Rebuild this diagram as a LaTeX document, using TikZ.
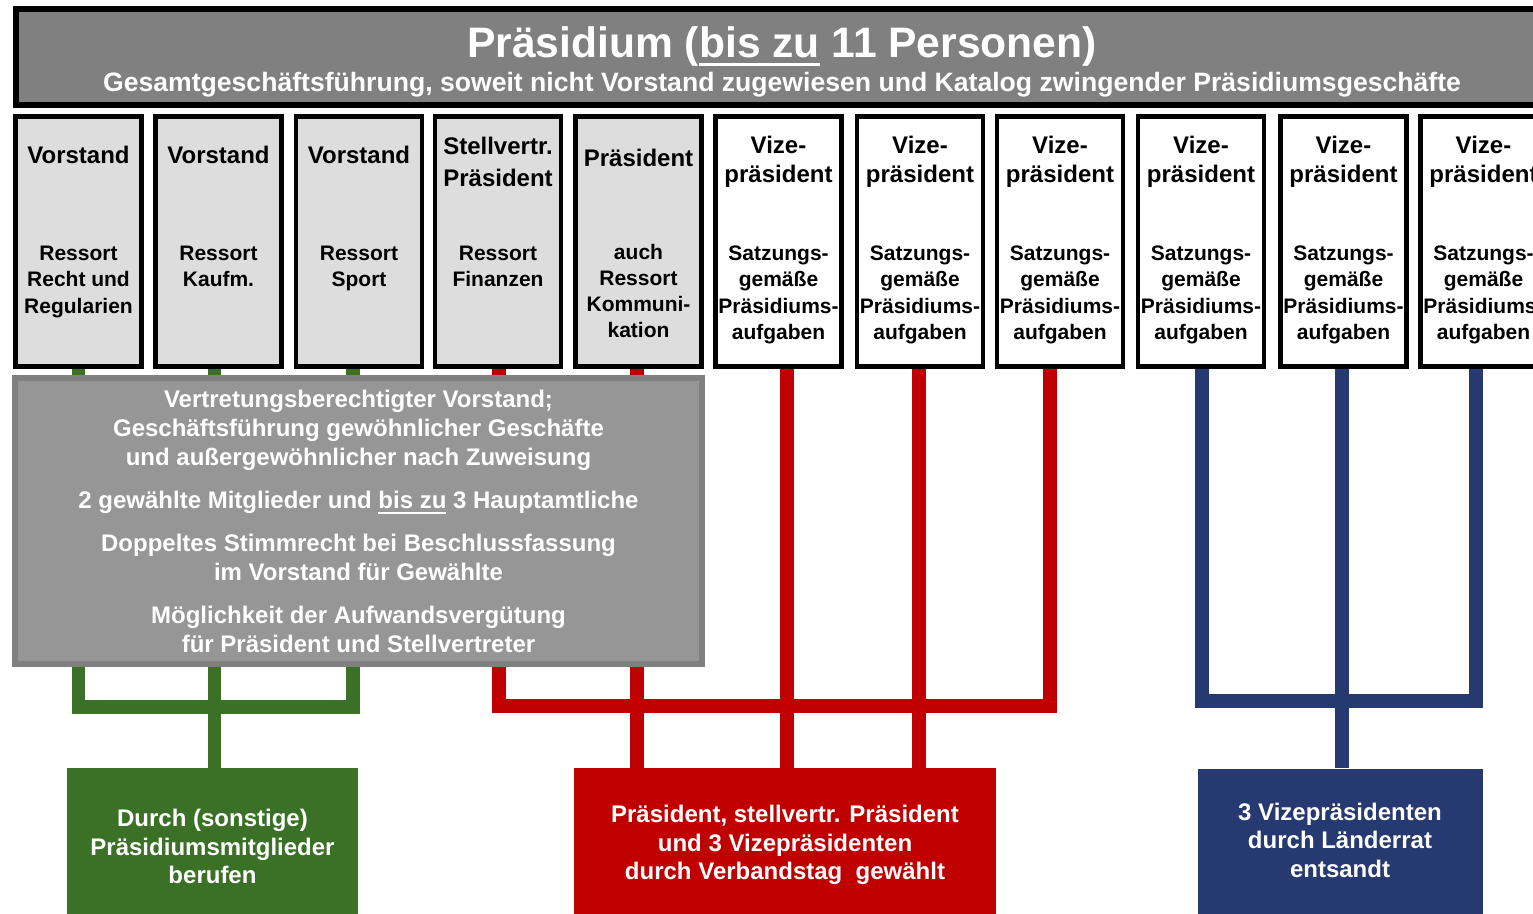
\documentclass[tikz,border=0pt]{standalone}
\usepackage{fontspec}
\setmainfont{Liberation Sans}
\usetikzlibrary{backgrounds}
\definecolor{bannergray}{HTML}{808080}
\definecolor{lightbox}{HTML}{DDDDDD}
\definecolor{midgray}{HTML}{969696}
\definecolor{midborder}{HTML}{808080}
\definecolor{grn}{RGB}{59,112,39}
\definecolor{rd}{HTML}{C00000}
\definecolor{blu}{RGB}{38,57,112}
\newcommand{\myunderline}[3]{\leavevmode\setbox0\hbox{#1}\rlap{\rule[-#2]{\wd0}{#3}}\box0\relax}
\begin{document}
\begin{tikzpicture}[x=0.5pt,y=-0.5pt,
  fbox/.style={draw=black,line width=2.25pt,minimum width=63pt,minimum height=125pt,inner sep=0pt},
  greyfbox/.style={fbox,fill=lightbox},
  whitefbox/.style={fbox,fill=white},
  headtxt/.style={font=\bfseries\fontsize{12}{16}\selectfont,align=center,inner sep=0pt},
  vizehead/.style={headtxt,font=\bfseries\fontsize{12}{14.5}\selectfont},
  dettxt/.style={font=\bfseries\fontsize{10.5}{13.15}\selectfont,align=center,inner sep=0pt},
  banner/.style={draw=black,line width=3pt,fill=bannergray,minimum width=764.5pt,minimum height=48pt,inner sep=0pt},
  midbox/.style={draw=midborder,fill=midgray,line width=3pt,minimum width=343.5pt,minimum height=143pt,inner sep=0pt,
    text=white,align=center,font=\bfseries\fontsize{12}{14.5}\selectfont},
  footbox/.style={minimum height=78.5pt,inner sep=0pt,draw=none},
  foottxt/.style={text=white,align=center,inner sep=0pt,font=\bfseries\fontsize{12}{14.25}\selectfont},
  gline/.style={draw=grn,line width=6.75pt},
  rline/.style={draw=rd,line width=7pt},
  bline/.style={draw=blu,line width=7pt}
]
\useasboundingbox (0,0) rectangle (1533,914);
\clip (0,0) rectangle (1533,914);

% banner
\node[banner] (top) at (780.5,57) {};
\node[anchor=base,text=white,inner sep=0pt,font=\bfseries\fontsize{21.3}{24}\selectfont] (ttl) at (782,58)
  {Präsidium (\myunderline{bis zu}{4pt}{1.6pt} 11 Personen)};
\node[anchor=base,text=white,inner sep=0pt,font=\bfseries\fontsize{13.3}{15}\selectfont] (sub) at (782,92)
  {Gesamtgeschäftsführung, soweit nicht Vorstand zugewiesen und Katalog zwingender Präsidiumsgeschäfte};

% top row boxes
\node[greyfbox] (b1) at (78.5,241.5) {};
\node[greyfbox] (b2) at (218.5,241.5) {};
\node[greyfbox] (b3) at (359,241.5) {};
\node[greyfbox] (b4) at (498,241.5) {};
\node[greyfbox] (b5) at (638.5,241.5) {};
\node[whitefbox] (b6) at (778.5,241.5) {};
\node[whitefbox] (b7) at (920,241.5) {};
\node[whitefbox] (b8) at (1060,241.5) {};
\node[whitefbox] (b9) at (1201,241.5) {};
\node[whitefbox] (b10) at (1343.5,241.5) {};
\node[whitefbox] (b11) at (1483.5,241.5) {};

\node[headtxt] (h1) at (78.5,155) {Vorstand};
\node[headtxt] (h2) at (218.5,155) {Vorstand};
\node[headtxt] (h3) at (359,155) {Vorstand};
\node[headtxt] (h4) at (498,161.8) {Stellvertr.\\Präsident};
\node[headtxt] (h5) at (638.5,158) {Präsident};

\node[dettxt] (d1) at (78.5,282) {Ressort\\Recht und\\Regularien};
\node[dettxt] (d2) at (218.5,266.5) {Ressort\\Kaufm.};
\node[dettxt] (d3) at (359,268.5) {Ressort\\Sport};
\node[dettxt] (d4) at (498,266.5) {Ressort\\Finanzen};
\node[dettxt,font=\bfseries\fontsize{10.5}{12.85}\selectfont] (d5) at (638.5,291) {auch\\Ressort\\Kommuni-\\kation};

\foreach \n/\x in {6/778.5,7/920,8/1060,9/1201,10/1343.5,11/1483.5}{
  \node[vizehead] (h\n) at (\x,161.3) {Vize-\\präsident};
  \node[dettxt] (d\n) at (\x,295) {Satzungs-\\gemäße\\Präsidiums-\\aufgaben};
}

% middle grey box
\node[midbox] (gbx) at (358.5,521) {Vertretungsberechtigter Vorstand;\\
 Geschäftsführung gewöhnlicher Geschäfte\\
 und außergewöhnlicher nach Zuweisung\\[7pt]
 2 gewählte Mitglieder und \myunderline{bis zu}{3pt}{1pt} 3 Hauptamtliche\\[7pt]
 Doppeltes Stimmrecht bei Beschlussfassung\\
 im Vorstand für Gewählte\\[7pt]
 Möglichkeit der Aufwandsvergütung\\
 für Präsident und Stellvertreter};

% bottom boxes
\node[footbox,fill=grn,minimum width=145.5pt] (gfoot) at (212.5,846.5) {};
\node[foottxt] (gfoottxt) at (212.5,846.5) {Durch (sonstige)\\Präsidiumsmitglieder\\berufen};
\node[footbox,fill=rd,minimum width=211pt] (rfoot) at (785,846.5) {};
\node[foottxt] (rfoottxt) at (785,845) {Präsident, stellvertr. Präsident\\und 3 Vizepräsidenten\\durch Verbandstag\ \ gewählt};
\node[footbox,fill=blu,minimum width=142.5pt] (bfoot) at (1340.5,847) {};
\node[foottxt] (bfoottxt) at (1340,840) {3 Vizepräsidenten\\durch Länderrat\\entsandt};

% connectors
\coordinate (gbarY) at (0,707);
\coordinate (rbarY) at (0,706);
\coordinate (bbarY) at (0,701.5);
\coordinate (g1) at (b1.south);
\coordinate (g2) at ([xshift=-2pt]b2.south);
\coordinate (g3) at ([xshift=-3pt]b3.south);
\coordinate (r1) at ([xshift=0.5pt]b4.south);
\coordinate (r2) at ([xshift=-0.75pt]b5.south);
\coordinate (r3) at ([xshift=4.25pt]b6.south);
\coordinate (r4) at ([xshift=-0.5pt]b7.south);
\coordinate (r5) at ([xshift=-5pt]b8.south);
\coordinate (u1) at ([xshift=0.5pt]b9.south);
\coordinate (u2) at ([xshift=-0.75pt]b10.south);
\coordinate (u3) at ([xshift=-3.75pt]b11.south);
\begin{scope}[on background layer]
  \draw[gline] (g1) -- (g1 |- gbarY) -- (g3 |- gbarY) -- (g3);
  \draw[gline] (g2) -- (g2 |- gfoot.north);
  \draw[rline] (r1) -- (r1 |- rbarY) -- (r5 |- rbarY) -- (r5);
  \draw[rline] (r2) -- (r2 |- rfoot.north);
  \draw[rline] (r3) -- (r3 |- rfoot.north);
  \draw[rline] (r4) -- (r4 |- rfoot.north);
  \draw[bline] (u1) -- (u1 |- bbarY) -- (u3 |- bbarY) -- (u3);
  \draw[bline] (u2) -- (u2 |- bfoot.north);
\end{scope}
\end{tikzpicture}
\end{document}
